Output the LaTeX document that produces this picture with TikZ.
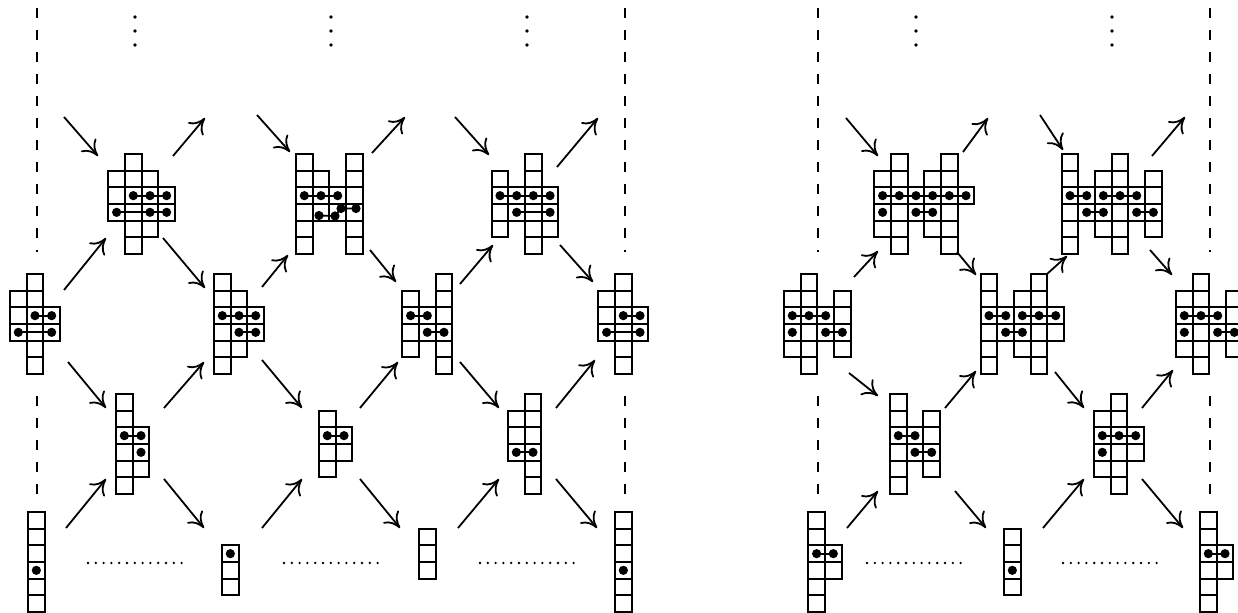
\documentclass[tikz,border=0pt]{standalone}
\usetikzlibrary{arrows.meta,calc}
\newcommand\hcell{16.667}
\newcommand\Cl[3]{\foreach \r in {#2,...,#3}{\draw[cellbox] ({#1*\hcell},{(\r-1)*\hcell}) rectangle ++(\hcell,\hcell);}}
\newcommand\Dt[2]{\fill ({(#1+0.5)*\hcell},{(#2-0.5)*\hcell}) circle[radius=4.6];}
\newcommand\Hl[3]{\draw[link] ({(#2+0.5)*\hcell},{(#1-0.5)*\hcell}) -- ({(#3+0.5)*\hcell},{(#1-0.5)*\hcell});}
\newcommand\Vdots[1]{\foreach \yy in {17,31,45}{\fill (#1,\yy) circle[radius=1.8];}}
\newcommand\Hdots[1]{\foreach \i in {0,...,12}{\fill ({#1+7.8*\i},563) circle[radius=1.3];}}
\begin{document}
\begin{tikzpicture}[x=0.5pt,y=-0.5pt,
  cellbox/.style={draw=black, line width=1.1pt},
  link/.style={draw=black, line width=0.9pt},
  arr/.style={line width=0.9pt, -{Computer Modern Rightarrow[length=7.5pt,width=10pt]}},
  sepline/.style={line width=0.9pt, dash pattern=on 5pt off 6pt}]
\useasboundingbox (0,0) rectangle (1238,613);
% ---------- lattice points ----------
\coordinate (F0) at (37,80);  \coordinate (F2) at (233,80);
\coordinate (F4) at (429,80); \coordinate (F6) at (625,80);
\coordinate (S1) at (135,200); \coordinate (S2) at (331,200); \coordinate (S3) at (527,200);
\coordinate (S4) at (37,323);  \coordinate (S5) at (233,323); \coordinate (S6) at (429,323); \coordinate (S7) at (625,323);
\coordinate (S8) at (135,444); \coordinate (S9) at (331,444); \coordinate (S10) at (527,444);
\coordinate (S11) at (37,563); \coordinate (S12) at (233,563); \coordinate (S13) at (429,563); \coordinate (S14) at (625,563);
\coordinate (G0) at (818,80); \coordinate (G2) at (1014,80); \coordinate (G4) at (1210,80);
\coordinate (S15) at (916,200); \coordinate (S16) at (1112,200);
\coordinate (S17) at (818,323); \coordinate (S18) at (1014,323); \coordinate (S19) at (1210,323);
\coordinate (S20) at (916,444); \coordinate (S21) at (1112,444);
\coordinate (S22) at (818,563); \coordinate (S23) at (1014,563); \coordinate (S24) at (1210,563);
% ---------- dashed separators ----------
\foreach \xx in {37,625,818,1210}{
  \coordinate (Da\xx) at (\xx,8);  \coordinate (Db\xx) at (\xx,252);
  \coordinate (Dc\xx) at (\xx,396); \coordinate (Dd\xx) at (\xx,494);
  \draw[sepline] (Da\xx) -- (Db\xx);
  \draw[sepline] (Dc\xx) -- (Dd\xx);
}
% ---------- vertical and horizontal dots ----------
\Vdots{135}\Vdots{331}\Vdots{527}\Vdots{916}\Vdots{1112}
\Hdots{88}\Hdots{284}\Hdots{480}\Hdots{867}\Hdots{1063}
% ================= LEFT PANEL =================
\begin{scope}[shift={(108.3,154)}]
 \Cl{0}{2}{4}\Cl{1}{1}{6}\Cl{2}{2}{5}\Cl{3}{3}{4}
 \Hl{3}{1}{3}\Dt{1}{3}\Dt{2}{3}\Dt{3}{3}
 \Hl{4}{0}{3}\Dt{0}{4}\Dt{2}{4}\Dt{3}{4}
\end{scope}
\begin{scope}[shift={(296,154)}]
 \Cl{0}{1}{6}\Cl{1}{2}{4}\Cl{2}{3}{4}\Cl{3}{1}{6}
 \Hl{3}{0}{2}\Dt{0}{3}\Dt{1}{3}\Dt{2}{3}
 \draw[link] (23,61.5) -- (39,62) -- (45,54.5) -- (60,54.5);
 \foreach \p in {(23,61.5),(39,62),(45,54.5),(60,54.5)}{\fill \p circle[radius=4.6];}
\end{scope}
\begin{scope}[shift={(491.7,154)}]
 \Cl{0}{2}{5}\Cl{1}{3}{4}\Cl{2}{1}{6}\Cl{3}{3}{5}
 \Hl{3}{0}{3}\Dt{0}{3}\Dt{1}{3}\Dt{2}{3}\Dt{3}{3}
 \Hl{4}{1}{3}\Dt{1}{4}\Dt{3}{4}
\end{scope}
\foreach \sx in {10,598.3}{
\begin{scope}[shift={(\sx,274)}]
 \Cl{0}{2}{4}\Cl{1}{1}{6}\Cl{2}{3}{4}
 \Hl{3}{1}{2}\Dt{1}{3}\Dt{2}{3}
 \Hl{4}{0}{2}\Dt{0}{4}\Dt{2}{4}
\end{scope}}
\begin{scope}[shift={(214,274)}]
 \Cl{0}{1}{6}\Cl{1}{2}{5}\Cl{2}{3}{4}
 \Hl{3}{0}{2}\Dt{0}{3}\Dt{1}{3}\Dt{2}{3}
 \Hl{4}{1}{2}\Dt{1}{4}\Dt{2}{4}
\end{scope}
\begin{scope}[shift={(402.3,274)}]
 \Cl{0}{2}{5}\Cl{1}{3}{4}\Cl{2}{1}{6}
 \Hl{3}{0}{1}\Dt{0}{3}\Dt{1}{3}
 \Hl{4}{1}{2}\Dt{1}{4}\Dt{2}{4}
\end{scope}
\begin{scope}[shift={(116,394)}]
 \Cl{0}{1}{6}\Cl{1}{3}{5}
 \Hl{3}{0}{1}\Dt{0}{3}\Dt{1}{3}\Dt{1}{4}
\end{scope}
\begin{scope}[shift={(319,394)}]
 \Cl{0}{2}{5}\Cl{1}{3}{4}
 \Hl{3}{0}{1}\Dt{0}{3}\Dt{1}{3}
\end{scope}
\begin{scope}[shift={(508,394)}]
 \Cl{0}{2}{4}\Cl{1}{1}{6}
 \Hl{4}{0}{1}\Dt{0}{4}\Dt{1}{4}
\end{scope}
\foreach \sx in {28,615}{
\begin{scope}[shift={(\sx,512)}]
 \Cl{0}{1}{6}\Dt{0}{4}
\end{scope}}
\begin{scope}[shift={(222,512)}]
 \Cl{0}{3}{5}\Dt{0}{3}
\end{scope}
\begin{scope}[shift={(419,512)}]
 \Cl{0}{2}{4}
\end{scope}
% ================= RIGHT PANEL =================
\begin{scope}[shift={(874.3,154)}]
 \Cl{0}{2}{5}\Cl{1}{1}{6}\Cl{2}{3}{4}\Cl{3}{2}{5}\Cl{4}{1}{6}\Cl{5}{3}{3}
 \Hl{3}{0}{5}\foreach \c in {0,...,5}{\Dt{\c}{3}}
 \Dt{0}{4}\Hl{4}{2}{3}\Dt{2}{4}\Dt{3}{4}
\end{scope}
\begin{scope}[shift={(1061.7,154)}]
 \Cl{0}{1}{6}\Cl{1}{3}{4}\Cl{2}{2}{5}\Cl{3}{1}{6}\Cl{4}{3}{4}\Cl{5}{2}{5}
 \Hl{3}{0}{1}\Hl{3}{2}{4}\foreach \c in {0,...,4}{\Dt{\c}{3}}
 \Hl{4}{1}{2}\Dt{1}{4}\Dt{2}{4}\Hl{4}{4}{5}\Dt{4}{4}\Dt{5}{4}
\end{scope}
\foreach \sx in {784,1176}{
\begin{scope}[shift={(\sx,274)}]
 \Cl{0}{2}{5}\Cl{1}{1}{6}\Cl{2}{3}{4}\Cl{3}{2}{5}
 \Hl{3}{0}{2}\Dt{0}{3}\Dt{1}{3}\Dt{2}{3}
 \Dt{0}{4}\Hl{4}{2}{3}\Dt{2}{4}\Dt{3}{4}
\end{scope}}
\begin{scope}[shift={(980.7,274)}]
 \Cl{0}{1}{6}\Cl{1}{3}{4}\Cl{2}{2}{5}\Cl{3}{1}{6}\Cl{4}{3}{4}
 \Hl{3}{0}{1}\Hl{3}{2}{4}\foreach \c in {0,...,4}{\Dt{\c}{3}}
 \Hl{4}{1}{2}\Dt{1}{4}\Dt{2}{4}
\end{scope}
\begin{scope}[shift={(890,394)}]
 \Cl{0}{1}{6}\Cl{1}{3}{4}\Cl{2}{2}{5}
 \Hl{3}{0}{1}\Dt{0}{3}\Dt{1}{3}
 \Hl{4}{1}{2}\Dt{1}{4}\Dt{2}{4}
\end{scope}
\begin{scope}[shift={(1094,394)}]
 \Cl{0}{2}{5}\Cl{1}{1}{6}\Cl{2}{3}{4}
 \Hl{3}{0}{2}\Dt{0}{3}\Dt{1}{3}\Dt{2}{3}\Dt{0}{4}
\end{scope}
\foreach \sx in {808.3,1200}{
\begin{scope}[shift={(\sx,512)}]
 \Cl{0}{1}{6}\Cl{1}{3}{4}
 \Hl{3}{0}{1}\Dt{0}{3}\Dt{1}{3}
\end{scope}}
\begin{scope}[shift={(1004,512)}]
 \Cl{0}{2}{5}\Dt{0}{4}
\end{scope}
% ================= ARROWS =================
% left panel
\draw[arr] ([shift={(27,37)}]F0) -- ([shift={(-37,-44)}]S1);
\draw[arr] ([shift={(38,-44)}]S1) -- ([shift={(-28,38)}]F2);
\draw[arr] ([shift={(24,35)}]F2) -- ([shift={(-41,-48)}]S2);
\draw[arr] ([shift={(41,-47)}]S2) -- ([shift={(-24,37)}]F4);
\draw[arr] ([shift={(26,37)}]F4) -- ([shift={(-38,-45)}]S3);
\draw[arr] ([shift={(30,-33)}]S3) -- ([shift={(-27,38)}]F6);
\draw[arr] ([shift={(27,-33)}]S4) -- ([shift={(-29,38)}]S1);
\draw[arr] ([shift={(28,38)}]S1) -- ([shift={(-28,-35)}]S5);
\draw[arr] ([shift={(29,-36)}]S5) -- ([shift={(-43,55)}]S2);
\draw[arr] ([shift={(39,50)}]S2) -- ([shift={(-33,-41)}]S6);
\draw[arr] ([shift={(31,-39)}]S6) -- ([shift={(-34,45)}]S3);
\draw[arr] ([shift={(33,45)}]S3) -- ([shift={(-32,-41)}]S7);
\draw[arr] ([shift={(31,39)}]S4) -- ([shift={(-29,-36)}]S8);
\draw[arr] ([shift={(29,-36)}]S8) -- ([shift={(-29,39)}]S5);
\draw[arr] ([shift={(29,37)}]S5) -- ([shift={(-29,-36)}]S9);
\draw[arr] ([shift={(29,-36)}]S9) -- ([shift={(-31,39)}]S6);
\draw[arr] ([shift={(31,39)}]S6) -- ([shift={(-28,-36)}]S10);
\draw[arr] ([shift={(29,-36)}]S10) -- ([shift={(-30,37)}]S7);
\draw[arr] ([shift={(29,-35)}]S11) -- ([shift={(-29,35)}]S8);
\draw[arr] ([shift={(29,35)}]S8) -- ([shift={(-29,-35)}]S12);
\draw[arr] ([shift={(29,-35)}]S12) -- ([shift={(-29,35)}]S9);
\draw[arr] ([shift={(29,35)}]S9) -- ([shift={(-29,-35)}]S13);
\draw[arr] ([shift={(29,-35)}]S13) -- ([shift={(-28,35)}]S10);
\draw[arr] ([shift={(29,35)}]S10) -- ([shift={(-28,-35)}]S14);
% right panel
\draw[arr] ([shift={(28,38)}]G0) -- ([shift={(-38,-44)}]S15);
\draw[arr] ([shift={(47,-48)}]S15) -- ([shift={(-26,38)}]G2);
\draw[arr] ([shift={(26,35)}]G2) -- ([shift={(-49,-50)}]S16);
\draw[arr] ([shift={(40,-44)}]S16) -- ([shift={(-25,37)}]G4);
\draw[arr] ([shift={(36,-46)}]S17) -- ([shift={(-38,51)}]S15);
\draw[arr] ([shift={(41,52)}]S15) -- ([shift={(-38,-48)}]S18);
\draw[arr] ([shift={(33,-49)}]S18) -- ([shift={(-45,56)}]S16);
\draw[arr] ([shift={(38,50)}]S16) -- ([shift={(-38,-48)}]S19);
\draw[arr] ([shift={(31,50)}]S17) -- ([shift={(-38,-48)}]S20);
\draw[arr] ([shift={(29,-36)}]S20) -- ([shift={(-38,48)}]S18);
\draw[arr] ([shift={(41,49)}]S18) -- ([shift={(-28,-36)}]S21);
\draw[arr] ([shift={(30,-36)}]S21) -- ([shift={(-37,47)}]S19);
\draw[arr] ([shift={(29,-35)}]S22) -- ([shift={(-38,47)}]S20);
\draw[arr] ([shift={(39,47)}]S20) -- ([shift={(-28,-35)}]S23);
\draw[arr] ([shift={(29,-35)}]S23) -- ([shift={(-28,35)}]S21);
\draw[arr] ([shift={(30,35)}]S21) -- ([shift={(-27,-35)}]S24);
\end{tikzpicture}
\end{document}
